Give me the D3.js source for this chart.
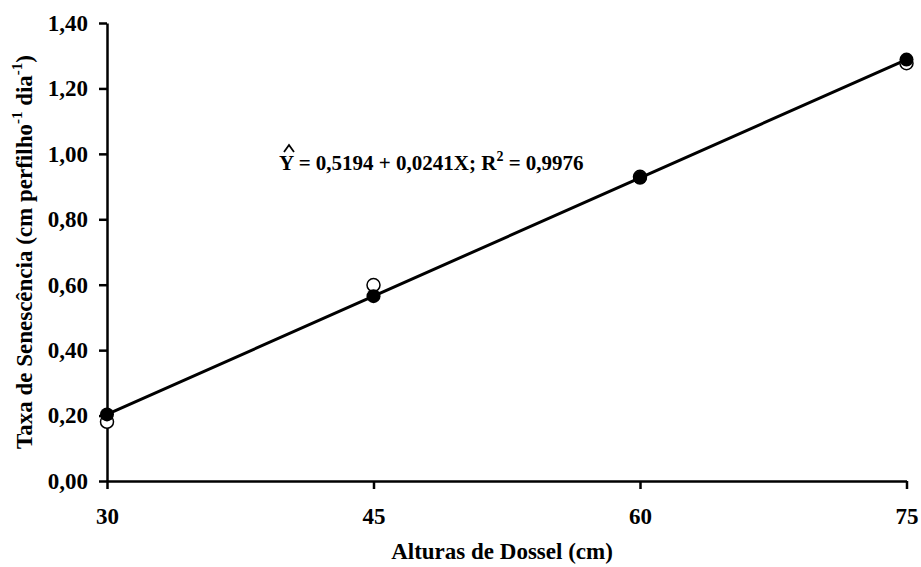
<!DOCTYPE html>
<html><head><meta charset="utf-8">
<script src="https://cdn.jsdelivr.net/npm/d3@7"></script>
<style>body{margin:0;background:#fff}svg{display:block}text{font-family:"Liberation Serif","Times New Roman",serif;font-weight:bold;fill:#000}</style>
</head><body>
<script>
const heights = [30, 45, 60, 75];
const observed = [0.181, 0.599, 0.930, 1.277];
const fitted = [0.2036, 0.5651, 0.9266, 1.2881];
const xTicks = [30, 45, 60, 75];
const yTicks = [0, 0.2, 0.4, 0.6, 0.8, 1.0, 1.2, 1.4];

const W = 921, H = 567;
const svg = d3.select("body").append("svg").attr("width", W).attr("height", H);
const x = d3.scaleLinear().domain([30, 75]).range([107, 906.5]);
const y = d3.scaleLinear().domain([0, 1.4]).range([481, 23]);
const fmt = v => d3.format(".2f")(v).replace(".", ",");
const FONT = '"Liberation Serif","Times New Roman",serif';

const xAxis = svg.append("g").attr("transform", `translate(0,${y(0)})`)
  .call(d3.axisBottom(x).tickValues(xTicks).tickSize(8).tickSizeOuter(0).tickPadding(19).tickFormat(d3.format("d")));
const yAxis = svg.append("g").attr("transform", `translate(${x(30)},0)`)
  .call(d3.axisLeft(y).tickValues(yTicks).tickSize(8).tickSizeOuter(0).tickPadding(11).tickFormat(fmt));
[xAxis, yAxis].forEach(g => {
  g.select(".domain").attr("stroke", "#000").attr("stroke-width", 2.5);
  g.selectAll(".tick line").attr("stroke", "#000").attr("stroke-width", 2.5);
  g.selectAll(".tick text").attr("font-size", 23).attr("font-family", FONT).attr("font-weight", "bold").attr("fill", "#000");
});

// regression line
svg.append("path")
  .datum(heights.map((h, i) => [h, fitted[i]]))
  .attr("d", d3.line().x(d => x(d[0])).y(d => y(d[1])))
  .attr("fill", "none").attr("stroke", "#000").attr("stroke-width", 3);

// observed (open)
svg.selectAll("circle.obs").data(heights).enter().append("circle").attr("class", "obs")
  .attr("cx", d => x(d)).attr("cy", (d, i) => y(observed[i])).attr("r", 6.5)
  .attr("fill", "#fff").attr("stroke", "#000").attr("stroke-width", 1.5);
// fitted (filled)
svg.selectAll("circle.fit").data(heights).enter().append("circle").attr("class", "fit")
  .attr("cx", d => x(d)).attr("cy", (d, i) => y(fitted[i])).attr("r", 7)
  .attr("fill", "#000");

// equation
const eq = svg.append("text").attr("x", 279).attr("y", 170).attr("font-size", 21);
eq.append("tspan").text("Y = 0,5194 + 0,0241X; R");
eq.append("tspan").attr("font-size", 14).attr("dy", -9).text("2");
eq.append("tspan").attr("dy", 9).text(" = 0,9976");
// hat over Y
svg.append("path").attr("d", "M284,152 L289,145 L294,152")
  .attr("fill", "none").attr("stroke", "#000").attr("stroke-width", 1.8);

// axis titles
svg.append("text").attr("x", 502).attr("y", 559).attr("text-anchor", "middle").attr("font-size", 23)
  .text("Alturas de Dossel (cm)");
const yl = svg.append("text").attr("transform", `translate(32,${(23 + 481) / 2}) rotate(-90)`)
  .attr("text-anchor", "middle").attr("font-size", 23);
yl.append("tspan").text("Taxa de Senescência (cm perfilho");
yl.append("tspan").attr("font-size", 15).attr("dy", -10).text("-1");
yl.append("tspan").attr("dy", 10).text(" dia");
yl.append("tspan").attr("font-size", 15).attr("dy", -10).text("-1");
yl.append("tspan").attr("dy", 10).text(")");
</script>
</body></html>
